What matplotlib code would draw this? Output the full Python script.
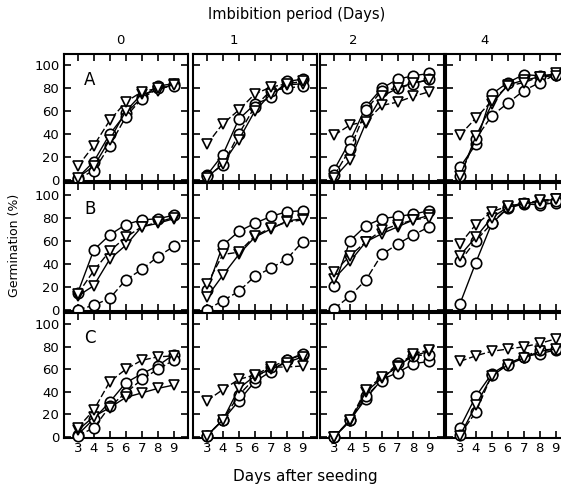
import matplotlib
matplotlib.use("Agg")
import matplotlib.pyplot as plt

days = [3, 4, 5, 6, 7, 8, 9]
imbibition = ["0", "1", "2", "4"]
rows = ["A", "B", "C"]
y_ticks = [0, 20, 40, 60, 80, 100]

# each panel: [circle (solid), circle (dashed), triangle (solid), triangle (dashed)]
A0 = [[2, 16, 40, 58, 72, 82, 84],
      [1, 8, 30, 55, 71, 80, 82],
      [2, 12, 35, 60, 75, 78, 84],
      [12, 30, 52, 68, 77, 80, 83]]
A1 = [[4, 22, 53, 66, 72, 86, 88],
      [3, 13, 40, 64, 78, 80, 82],
      [2, 14, 35, 60, 75, 83, 84],
      [31, 49, 61, 75, 81, 84, 86]]
A2 = [[9, 34, 64, 80, 88, 91, 93],
      [4, 27, 61, 78, 80, 84, 88],
      [2, 17, 50, 73, 80, 85, 87],
      [39, 48, 51, 65, 68, 73, 77]]
A4 = [[11, 31, 75, 85, 92, 91, 92],
      [3, 36, 56, 67, 78, 85, 92],
      [3, 38, 66, 83, 87, 90, 93],
      [39, 54, 69, 82, 85, 90, 91]]
B0 = [[15, 52, 65, 74, 78, 79, 82],
      [0, 4, 10, 26, 35, 46, 55],
      [12, 21, 44, 56, 72, 75, 79],
      [14, 34, 51, 63, 72, 76, 80]]
B1 = [[17, 56, 68, 75, 81, 85, 86],
      [0, 8, 16, 29, 36, 44, 59],
      [11, 30, 48, 63, 70, 77, 79],
      [22, 48, 50, 64, 71, 76, 78]]
B2 = [[21, 60, 73, 79, 81, 83, 86],
      [1, 12, 26, 48, 57, 65, 72],
      [27, 42, 59, 66, 72, 78, 82],
      [33, 47, 59, 69, 74, 78, 80]]
B4 = [[5, 41, 75, 88, 92, 91, 93],
      [42, 60, 75, 89, 93, 93, 94],
      [47, 63, 80, 89, 92, 94, 96],
      [57, 74, 85, 90, 92, 95, 96]]
C0 = [[2, 16, 31, 48, 56, 63, 73],
      [1, 8, 27, 39, 51, 60, 68],
      [6, 18, 26, 35, 39, 43, 46],
      [8, 24, 49, 60, 68, 71, 72]]
C1 = [[1, 15, 32, 49, 58, 68, 73],
      [1, 15, 37, 52, 62, 68, 74],
      [1, 15, 43, 54, 60, 66, 71],
      [32, 42, 51, 55, 62, 62, 63]]
C2 = [[0, 15, 34, 51, 57, 65, 67],
      [0, 15, 36, 50, 66, 72, 73],
      [0, 14, 40, 52, 63, 72, 76],
      [0, 15, 42, 53, 62, 74, 77]]
C4 = [[8, 36, 56, 65, 71, 74, 77],
      [2, 22, 55, 64, 71, 77, 78],
      [1, 28, 54, 64, 70, 76, 78],
      [67, 72, 76, 78, 80, 83, 87]]

panels = [[A0, A1, A2, A4], [B0, B1, B2, B4], [C0, C1, C2, C4]]

W, H = 561, 487
fig = plt.figure(figsize=(W / 100, H / 100), dpi=100)
fig.patch.set_facecolor("white")

col_px = [(63.5, 188), (192.5, 317), (320, 443.5), (445.5, 570)]
row_px = [(54, 181), (183, 311), (313, 438)]
col_title_x = [120, 234, 353, 485]

styles = [dict(marker="o", ls="-", ms=7.5),
          dict(marker="o", ls=(0, (5, 2)), ms=7.5),
          dict(marker="v", ls="-", ms=6.5),
          dict(marker="v", ls=(0, (5, 2)), ms=6.5)]

for r, (y0, y1) in enumerate(row_px):
    for c, (x0, x1) in enumerate(col_px):
        ax = fig.add_axes([x0 / W, 1 - y1 / H, (x1 - x0) / W, (y1 - y0) / H])
        for s, st in zip(panels[r][c], styles):
            ax.plot(days, s, color="black", lw=1.0, mfc="white", mec="black",
                    mew=1.2, marker=st["marker"], ls=st["ls"], ms=st["ms"],
                    clip_on=False, zorder=3)
        ax.set_xlim(2.1, 9.9)
        ax.set_ylim(-1, 110)
        ax.set_xticks(days)
        ax.set_yticks(y_ticks)
        ax.tick_params(direction="in", top=True, right=True, length=5, width=1.2,
                       labelsize=9.5, pad=3)
        for sp in ax.spines.values():
            sp.set_linewidth(1.5)
        if c != 0:
            ax.set_yticklabels([])
        if r != 2:
            ax.set_xticklabels([])
        if c == 0:
            ax.text(3.4, 83, rows[r], fontsize=12)

for c in range(4):
    fig.text(col_title_x[c] / W, 1 - 40 / H, imbibition[c], ha="center",
             va="center", fontsize=9.5)

fig.text(297 / W, 1 - 15 / H, "Imbibition period (Days)", ha="center", va="center",
         fontsize=10.5)
fig.text(305 / W, 1 - 477 / H, "Days after seeding", ha="center", va="center",
         fontsize=11)
fig.text(15 / W, 1 - 245 / H, "Germination (%)", ha="center", va="center",
         rotation=90, fontsize=9)

fig.savefig("out.png", dpi=100)
